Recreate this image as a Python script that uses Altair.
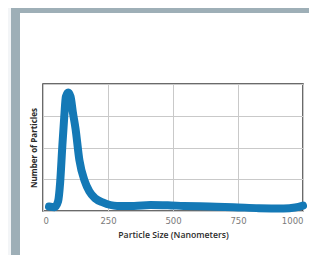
import altair as alt
import pandas as pd

size_nm = [23, 45, 58, 66, 74, 82, 88, 97, 106, 115, 125, 140, 160, 178, 200, 230, 285, 350, 413, 480, 541, 640, 733, 830, 925, 970, 1000]
particles = [0.14, 0.12, 0.3, 0.9, 2.0, 3.0, 3.6, 3.73, 3.6, 3.1, 2.6, 1.6, 0.95, 0.62, 0.4, 0.27, 0.16, 0.16, 0.19, 0.18, 0.16, 0.14, 0.12, 0.09, 0.08, 0.11, 0.17]

x_ticks = [0, 250, 500, 750, 1000]
y_ticks = [0, 1, 2, 3, 4]

df = pd.DataFrame({"size": size_nm, "count": particles})

W, H = 260, 127
PL, PT = 35, 76
one = pd.DataFrame({"a": [0]})

outer = alt.Chart(one).mark_rect(color="#f3f5f7").encode(
    x=alt.value(-40), x2=alt.value(-32), y=alt.value(-90), y2=alt.value(200)
)
left_strip = alt.Chart(one).mark_rect(color="#9eafb7").encode(
    x=alt.value(-32), x2=alt.value(-23), y=alt.value(-90), y2=alt.value(200)
)
top_strip = alt.Chart(one).mark_rect(color="#9eafb7").encode(
    x=alt.value(-32), x2=alt.value(300), y=alt.value(-90), y2=alt.value(-71)
)

line = alt.Chart(df).mark_line(
    color="#1479b6", strokeWidth=8, interpolate="monotone", strokeCap="round", strokeJoin="round"
).encode(
    x=alt.X("size:Q", scale=alt.Scale(domain=[0, 1000], nice=False),
            axis=alt.Axis(values=x_ticks, format="d", title="Particle Size (Nanometers)", grid=True,
                          gridColor="#c9c9c9", ticks=False, tickSize=0, domain=False,
                          labelFont="DejaVu Sans", labelFontSize=8.5, labelColor="#7a7a7a",
                          labelPadding=5, titleFont="Open Sans", titleFontSize=8.7,
                          titleFontWeight=600, titleColor="#2b2b2b", titlePadding=6)),
    y=alt.Y("count:Q", scale=alt.Scale(domain=[0, 4], nice=False),
            axis=alt.Axis(values=y_ticks, labels=False, ticks=False, tickSize=0, domain=False,
                          grid=True, gridColor="#c9c9c9", title="Number of Particles",
                          titleFont="Open Sans", titleFontSize=8, titleFontWeight="bold",
                          titleColor="#2b2b2b", titlePadding=5)),
)

chart = alt.layer(outer, left_strip, top_strip, line).properties(
    width=W, height=H,
    autosize=alt.AutoSizeParams(type="none"),
    padding={"left": PL, "top": PT, "right": 301 - PL - W, "bottom": 247 - PT - H},
    background="#ffffff",
).configure_view(stroke="#3a3a3a", strokeWidth=1.5)

chart.save("out.html", embed_options={"renderer": "svg", "actions": False})
